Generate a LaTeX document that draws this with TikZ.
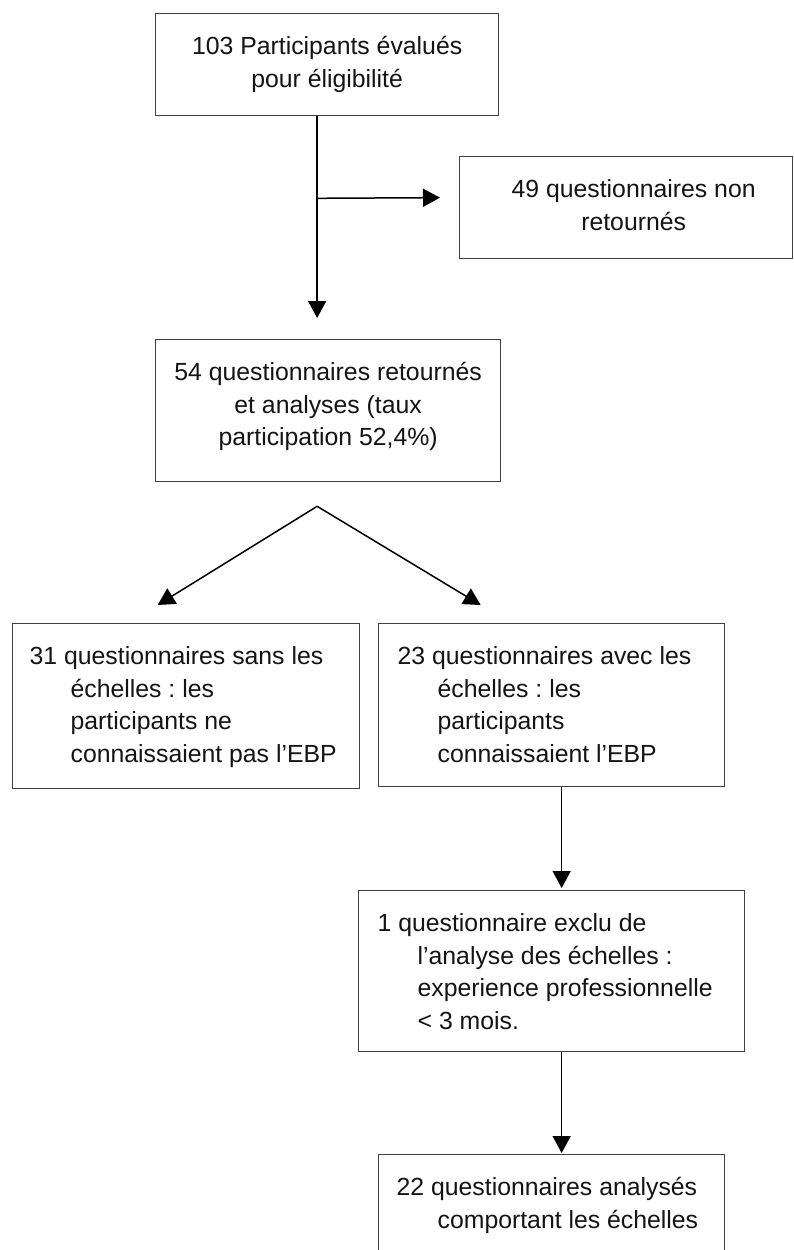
\documentclass[tikz,border=0pt]{standalone}
\usepackage{fontspec}
\setmainfont{Liberation Sans}
\usetikzlibrary{arrows.meta}
\frenchspacing
\newcommand{\flowtext}[4]{\parbox[c][#2][t]{#1}{\vspace*{18pt}#3\strut #4}}
\tikzset{
  flowbox/.style={draw=black!75, line width=1.3pt, inner sep=0pt, anchor=north west,
    text=black!92, font=\fontsize{24.8pt}{32.7pt}\selectfont\frenchspacing},
  conn/.style={draw=black, line width=1.5pt},
  arr/.style={conn, -{Triangle[width=18pt,length=17pt]}}
}
\begin{document}
\begin{tikzpicture}[x=1pt,y=-1pt]
\useasboundingbox (0,0) rectangle (794,1250);
\fill[white] (0,0) rectangle (794,1250);
\clip (0,0) rectangle (794,1250);

\node[flowbox] (A) at (155,13) {\flowtext{343pt}{102pt}{\centering}{103 Participants évalués\\pour éligibilité}};
\node[flowbox] (B) at (459,156) {\flowtext{333pt}{102pt}{\centering\leftskip=15pt plus 1fil}{49 questionnaires non\\retournés}};
\node[flowbox] (C) at (155,339) {\flowtext{345pt}{142pt}{\centering}{54 questionnaires retournés\\et analyses (taux\\participation 52,4\%)}};
\node[flowbox] (L) at (12,623) {\flowtext{347pt}{165pt}{\raggedright\leftskip=17pt}{31 questionnaires sans les\\\hspace*{41pt}échelles : les\\\hspace*{41pt}participants ne\\\hspace*{41pt}connaissaient pas l’EBP}};
\node[flowbox] (R) at (378,623) {\flowtext{346pt}{163pt}{\raggedright\leftskip=19pt}{23 questionnaires avec les\\\hspace*{40pt}échelles : les\\\hspace*{40pt}participants\\\hspace*{40pt}connaissaient l’EBP}};
\node[flowbox] (D) at (358,890) {\flowtext{386pt}{161pt}{\raggedright\leftskip=19pt}{1 questionnaire exclu de\\\hspace*{40pt}l’analyse des échelles :\\\hspace*{40pt}experience professionnelle\\\hspace*{40pt}< 3 mois.}};
\node[flowbox] (E) at (378,1154) {\flowtext{346pt}{130pt}{\raggedright\leftskip=18pt}{22 questionnaires analysés\\\hspace*{41pt}comportant les échelles}};

\coordinate (split) at ([xshift=-10pt,yshift=-82pt]A.south);
\coordinate (apex) at ([xshift=-11pt,yshift=-24pt]C.south);

\draw[arr] ([xshift=-10pt]A.south) -- ([xshift=-11pt,yshift=21pt]C.north);
\draw[arr] (split) -- ([xshift=-19pt,yshift=10pt]B.west);
\draw[arr] (apex) -- ([xshift=-28.5pt,yshift=18pt]L.north);
\draw[arr] (apex) -- ([xshift=-71pt,yshift=18pt]R.north);
\draw[arr] ([xshift=10pt]R.south) -- ([xshift=10pt,yshift=2pt]D.north);
\draw[arr] ([xshift=10pt]D.south) -- ([xshift=10pt,yshift=1pt]E.north);
\end{tikzpicture}
\end{document}
